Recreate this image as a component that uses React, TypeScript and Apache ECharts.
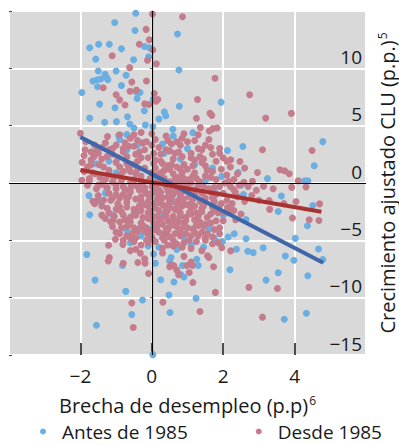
import React, { useEffect, useRef } from "react";
import * as echarts from "echarts";

const xTicks = { min: -4, max: 6, interval: 2 };
const yTicks = { min: -15, max: 15, interval: 5 };

const seriesNames = ["Antes de 1985", "Desde 1985"];

const antesPoints: number[][] = [
  [-0.45, 14.8], [-1.04, 14.0], [-0.47, 13.3], [0.72, 13.0], [-1.74, 11.8], [-1.49, 12.1], [-1.19, 12.1],
  [-0.85, 11.7], [-0.2, 11.9], [-0.07, 11.8], [-1.57, 10.8], [-0.51, 10.75], [-0.09, 11.0], [0.76, 9.86],
  [-1.5, 9.77], [-1.0, 9.77], [-1.65, 8.9], [-1.53, 9.0], [-1.43, 9.07], [-1.31, 9.48], [-1.26, 9.16],
  [-1.23, 9.0], [-0.72, 9.4], [-1.52, 8.4], [-1.96, 7.9], [-0.85, 8.5], [-0.44, 7.95], [-0.33, 7.9],
  [-0.41, 7.37], [-1.46, 6.88], [-1.03, 6.56], [0.77, 6.7], [1.94, 7.05], [0.04, 7.3], [-1.74, 5.66],
  [-1.32, 5.3], [-0.99, 5.35], [-0.68, 5.78], [-0.21, 6.3], [0.35, 6.2], [0.39, 5.87], [0.2, 5.58],
  [-0.93, 4.13], [-0.7, 4.22], [-0.62, 5.14], [-0.18, 5.06], [0.03, 4.9], [0.59, 4.68], [1.15, 4.39],
  [2.55, 3.18], [4.79, 3.61], [4.55, 1.5], [2.12, 2.83], [1.96, 0.58], [2.42, 0.92], [2.51, -0.17],
  [3.24, 0.38], [4.28, 0.2], [4.37, 0.2], [-1.76, -1.1], [-1.74, -2.77], [-1.56, 1.68], [-1.43, -1.62],
  [-1.26, -0.5], [-1.82, -6.24], [-1.59, -8.47], [-1.55, -12.4], [-0.73, -9.45], [-0.26, -10.2],
  [-0.56, -11.47], [-0.82, -7.2], [0.03, -4.9], [0.05, -6.2], [0.25, -8.44], [0.48, -9.77], [0.51, -11.3],
  [0.62, -8.64], [0.81, -7.98], [1.24, -10.06], [0.86, -7.2], [0.54, -6.5], [1.26, -6.65], [2.19, -7.57],
  [2.37, -5.78], [2.64, -4.86], [2.69, -5.95], [2.84, -6.07], [3.12, -5.64], [3.2, -8.47], [3.54, -7.83],
  [3.74, -6.36], [3.98, -6.73], [4.02, -4.83], [4.37, -8.09], [4.33, -11.36], [3.71, -11.88], [4.67, -5.75],
  [4.79, -6.68], [4.36, -3.73], [4.51, -1.97], [3.63, -1.13], [3.54, -2.49], [2.57, -1.0], [2.64, -3.18],
  [2.31, -4.42], [1.98, -5.1], [2.14, -4.71], [1.75, -4.83], [0.03, -14.97],
  [-0.5, 4.8], [-0.9, 3.8], [-0.7, 2.9], [0.3, 3.4], [0.8, 2.1], [1.2, 1.6], [1.5, 0.2], [1.8, -0.9],
  [2.0, -2.8], [1.6, -4.0], [0.9, -4.7], [0.4, -4.4], [0.0, -4.0], [-0.3, -4.6], [-0.7, -4.1], [-1.1, -2.8],
  [-1.3, -0.9], [-1.0, 0.9], [0.1, 0.4], [0.6, -1.6], [0.2, -5.6], [0.7, -5.8], [1.1, -5.4], [-0.1, -5.5],
  [0.5, -6.8], [1.3, -7.2], [0.9, -8.2], [0.1, -7.0], [0.35, 2.6], [0.6, 4.1], [1.0, 3.0], [1.7, 1.3],
  [-0.4, 3.3], [-1.2, 1.9], [0.25, -3.0], [1.9, -2.0], [-0.6, -5.2], [1.45, -5.6]
];

const desdePoints: number[][] = [
  [0.02, 14.74], [0.86, 14.5], [-0.16, 13.4], [-0.07, 12.5], [-0.35, 12.1], [0.03, 11.6], [-1.11, 11.1],
  [-0.12, 10.7], [0.13, 10.4], [-0.62, 10.06], [1.77, 9.13], [-0.15, 8.9], [-0.56, 8.8], [-1.36, 8.3],
  [-0.61, 8.0], [-0.43, 8.1], [0.07, 7.8], [-1.0, 7.7], [-0.9, 7.25], [-0.75, 6.8], [-0.2, 6.9],
  [-0.08, 6.85], [0.17, 7.28], [0.12, 7.14], [2.74, 7.7], [1.28, 7.28], [1.63, 6.07], [1.68, 5.9],
  [3.91, 6.07], [3.19, 5.66], [1.25, 5.64], [1.36, 4.83], [1.61, 4.54], [1.71, 4.74], [1.83, 4.8],
  [-2.0, 4.34], [-1.24, 4.05], [4.49, 2.83], [3.1, 2.9], [2.21, 2.02], [2.47, 1.88], [2.96, 0.92],
  [3.59, 1.16], [3.72, 1.07], [3.85, 0.81], [4.1, 0.2], [3.92, -0.38], [4.32, -0.35], [4.7, -1.82],
  [4.68, -3.27], [4.41, -3.21], [4.04, -1.62], [3.94, -3.06], [3.29, -1.53], [3.13, -0.29], [2.82, 0.14],
  [2.93, -0.64], [2.58, 0.06], [2.34, -0.81], [2.15, 0.14], [2.12, -2.14], [2.21, -5.92], [2.72, -9.1],
  [3.1, -11.7], [3.52, -9.2], [1.35, -11.2], [1.78, -9.54], [1.15, -8.67], [1.05, -7.8], [0.75, -8.0],
  [0.31, -10.4], [-0.09, -7.9], [-0.56, -10.46], [-0.52, -12.6], [-1.19, -6.5], [-1.22, -6.8], [-1.21, -5.43],
  [-1.87, 2.89], [-1.96, 0.23], [-1.75, 0.14], [-1.62, 2.3], [-1.47, 1.6], [-1.65, -1.59], [-1.52, -1.5],
  [-1.31, -3.05], [-1.08, -3.27], [-1.02, -4.91], [-0.81, -5.35], [-0.45, -5.78], [-0.32, -6.13],
  [-0.19, -7.0], [-0.39, -6.94], [0.55, -7.1], [0.62, -7.23], [0.98, -7.2], [1.14, -7.2], [1.56, -6.35],
  [1.73, -7.3], [1.86, -5.2], [1.96, -5.64], [1.75, -4.05], [-1.9, 2.4], [-1.7, 2.0], [-1.8, 1.4],
  [-1.55, 2.8], [-1.4, 3.1],
  [-0.9, 4.2], [-0.6, 3.9], [-0.3, 4.4], [0.1, 3.8], [0.4, 4.1], [0.7, 3.6], [0.9, 4.3], [1.2, 3.7],
  [-1.3, 3.5], [1.5, 3.3],
  [-1.1, 3.0], [-0.8, 2.7], [-0.5, 3.2], [-0.2, 2.9], [0.2, 3.1], [0.5, 2.8], [0.8, 3.3], [1.1, 2.6],
  [1.4, 2.9], [1.7, 2.5], [-1.5, 2.6], [1.9, 3.0], [2.0, 2.2],
  [-1.4, 2.1], [-1.0, 1.8], [-0.7, 2.3], [-0.4, 1.9], [-0.1, 2.2], [0.3, 1.7], [0.6, 2.1], [0.9, 1.6],
  [1.2, 2.0], [1.5, 1.5], [1.8, 1.9], [-1.7, 1.6], [2.2, 1.4], [-0.9, 1.4], [0.1, 1.3], [0.5, 1.2],
  [-1.6, 0.8], [-1.2, 1.1], [-0.9, 0.7], [-0.6, 1.0], [-0.3, 0.6], [0.0, 0.9], [0.3, 0.5], [0.6, 0.8],
  [0.9, 0.4], [1.2, 0.9], [1.5, 0.6], [1.8, 0.3], [2.1, 0.7], [-1.3, 0.3], [-0.5, 0.3], [0.2, 0.2],
  [1.0, 1.2], [0.7, 1.4], [-0.2, 1.3],
  [-1.8, -0.2], [-1.4, -0.1], [-1.1, 0.1], [-0.8, -0.3], [-0.5, -0.1], [-0.2, -0.4], [0.1, -0.2],
  [0.4, -0.3], [0.7, -0.1], [1.0, -0.4], [1.3, -0.2], [1.6, -0.5], [1.9, -0.3], [2.3, -0.6], [-0.6, 0.0],
  [0.5, 0.1], [1.1, 0.0], [-1.0, -0.5], [0.2, -0.6], [0.9, -0.7],
  [-1.5, -1.1], [-1.2, -0.9], [-0.9, -1.3], [-0.6, -0.8], [-0.3, -1.2], [0.0, -0.9], [0.3, -1.3],
  [0.6, -1.0], [0.9, -1.4], [1.2, -0.9], [1.5, -1.3], [1.8, -1.0], [2.1, -1.5], [-0.1, -1.6], [0.5, -1.7],
  [1.1, -1.8], [-0.7, -1.7], [0.8, -1.1], [-1.0, -1.0], [0.2, -1.0],
  [-1.4, -2.0], [-1.0, -2.3], [-0.7, -2.1], [-0.4, -2.5], [-0.1, -2.0], [0.2, -2.4], [0.5, -2.1],
  [0.8, -2.6], [1.1, -2.2], [1.4, -2.5], [1.7, -2.1], [2.0, -2.6], [-0.8, -2.8], [0.0, -2.8], [0.6, -2.9],
  [1.3, -2.9], [-1.2, -2.6], [0.3, -1.9], [1.0, -1.9],
  [-1.3, -3.1], [-0.9, -3.4], [-0.6, -3.0], [-0.3, -3.5], [0.0, -3.2], [0.3, -3.6], [0.6, -3.1],
  [0.9, -3.5], [1.2, -3.2], [1.5, -3.6], [1.8, -3.3], [-0.5, -3.9], [0.4, -4.0], [1.0, -3.9], [-1.1, -3.8],
  [1.9, -3.9],
  [-1.0, -4.3], [-0.7, -4.6], [-0.4, -4.2], [-0.1, -4.5], [0.2, -4.3], [0.5, -4.7], [0.8, -4.2],
  [1.1, -4.6], [1.4, -4.3], [1.7, -4.7], [-0.8, -5.0], [0.1, -5.1], [0.9, -5.2], [1.5, -5.0], [-0.3, -5.4],
  [0.6, -5.5],
  [-0.6, -5.9], [0.3, -6.1], [0.9, -6.4], [1.4, -5.9], [-0.2, -6.6], [1.1, -6.9], [0.5, -7.3], [-0.8, -7.0],
  [1.6, -6.5], [0.7, -7.6],
  [-0.75, 3.5], [-0.45, 2.5], [-0.15, 3.6], [0.25, 2.5], [0.55, 3.4], [0.85, 2.3], [1.35, 2.3], [1.65, 3.1],
  [-1.25, 2.3], [-0.55, 1.6], [-0.25, 0.1], [0.05, 1.7], [0.35, 1.1], [0.65, 0.3], [0.95, -0.1], [1.25, 0.4],
  [1.55, 1.1], [1.75, -0.4], [-1.45, 0.5], [-0.85, 0.2], [-0.35, -0.6], [0.15, -1.4], [0.45, -0.7],
  [0.75, -1.5], [1.05, -1.2], [1.35, -1.6], [1.65, -0.8], [-1.15, -1.5], [-0.45, -1.4], [-0.05, -2.4],
  [0.35, -2.7], [0.65, -2.3], [0.95, -3.0], [1.25, -2.6], [1.55, -3.0], [-0.85, -2.5], [-0.25, -3.0],
  [0.15, -3.8], [0.45, -3.3], [0.75, -4.0], [1.15, -4.0], [1.45, -3.8], [-0.65, -3.6], [-0.05, -4.2],
  [0.35, -5.0], [0.65, -4.4], [1.25, -5.1], [-0.45, -4.8], [2.2, -2.2], [2.4, -1.2], [1.95, -1.8],
  [2.05, 0.0], [-1.6, -1.8], [-1.75, 0.4], [-1.9, 1.0],
  [-0.95, 2.2], [-0.65, 1.3], [-0.35, 2.7], [-0.05, 0.4], [0.25, 0.9], [0.55, 1.6], [0.85, 0.9], [1.15, 1.5],
  [1.45, 2.1], [-1.05, 0.5], [-0.75, -0.6], [-0.45, 0.8], [-0.15, -0.9], [0.15, 0.7], [0.45, -1.2],
  [0.75, 0.5], [1.05, -0.8], [1.35, 0.1], [1.65, 0.5], [-1.25, -0.4], [-0.95, -1.8], [-0.65, -1.2],
  [-0.35, -2.0], [-0.05, -1.2], [0.25, -0.8], [0.55, -1.4], [0.85, -2.0], [1.15, -1.4], [1.45, -2.0],
  [1.75, -1.6], [-1.05, -2.9], [-0.75, -3.2], [-0.45, -2.8], [-0.15, -3.9], [0.15, -2.9], [0.45, -2.4],
  [0.75, -3.4], [1.05, -2.6], [1.35, -3.4], [1.65, -2.7], [-0.85, -3.9], [-0.55, -4.4], [-0.25, -3.7],
  [0.05, -3.5], [0.35, -4.4], [0.65, -3.7], [0.95, -4.4], [1.25, -3.6], [1.55, -4.4], [-0.15, -5.0],
  [0.45, -5.4], [1.05, -5.0], [0.25, 1.9], [0.65, 2.6], [-0.25, 3.5], [0.05, 2.6], [-0.65, 3.2], [1.0, 3.6],
  [1.3, 3.0], [-1.35, 1.4], [-1.55, -0.5], [-1.35, -1.5], [-1.25, -2.2], [1.85, -2.6], [2.0, -0.9],
  [2.2, -0.3], [1.95, 1.2], [0.4, -0.1], [0.1, -0.5], [0.6, -0.5], [0.8, 0.1], [-0.3, -0.1], [0.2, -1.7],
  [0.4, -2.0], [0.7, -1.8], [-0.1, -1.0], [-0.4, -0.3], [0.0, 0.1], [0.3, 0.0], [0.6, 0.0], [0.9, -0.4],
  [1.2, -0.6], [0.5, -0.8], [0.2, -1.2], [-0.2, -1.9], [0.1, -2.2], [0.4, -2.9], [0.8, -2.9], [1.2, -2.0],
  [-0.5, -2.3], [-0.8, -1.0], [-0.1, -2.6], [0.7, -3.3], [0.2, -3.3], [-0.3, -2.4], [0.5, -3.8], [0.9, -3.8],
  [-0.6, -3.4], [-0.2, -4.2], [1.3, -4.6], [0.0, -4.7], [0.6, -5.0], [-0.5, -5.1], [1.7, -5.3], [0.3, -5.7],
  [-0.9, -4.4], [-1.15, -3.4], [1.5, -4.8], [0.85, -5.6], [-1.0, 3.3], [-0.5, 4.2], [0.0, 4.3], [0.45, 3.7],
  [0.85, 3.9], [1.3, 4.2], [1.6, 3.8], [1.9, 2.6], [2.1, 1.9], [-1.6, 3.3], [-1.85, 3.6], [-1.7, 2.7],
  [-1.95, 1.8], [2.3, 0.3], [2.45, -0.2], [2.25, -1.8], [2.6, -1.6], [2.5, -2.7], [2.35, -3.2],
  [-0.8, 3.0], [-0.4, 3.7], [0.0, 3.3], [0.4, 2.9], [0.75, 2.7], [1.1, 2.2], [1.4, 1.8], [1.7, 1.0],
  [-1.1, 2.5], [-0.7, 1.7], [-0.3, 2.2], [0.1, 2.0], [0.45, 1.5], [0.8, 1.2], [1.15, 0.6], [1.45, -0.3],
  [-1.2, 0.7], [-0.8, 1.0], [-0.4, 1.2], [0.0, -0.3], [0.35, 0.4], [0.7, -0.7], [1.05, 0.3], [1.4, -0.9],
  [1.7, -1.3], [-1.0, -0.2], [-0.6, -0.5], [-0.2, -0.7], [0.15, -0.9], [0.5, -1.5], [0.85, -1.7], [1.2, -1.2],
  [1.5, -1.7], [-1.1, -1.3], [-0.7, -1.4], [-0.3, -1.6], [0.05, -1.8], [0.4, -2.3], [0.75, -2.4], [1.1, -2.7],
  [1.4, -2.2], [1.75, -2.4], [-0.9, -2.1], [-0.5, -2.7], [-0.1, -3.1], [0.25, -3.2], [0.6, -3.6], [0.95, -3.3],
  [1.3, -3.7], [1.65, -3.5], [-0.7, -3.8], [-0.35, -4.0], [0.1, -4.1], [0.45, -4.1], [0.8, -4.6], [1.2, -4.3],
  [-0.6, -4.8], [-0.1, -5.2], [0.3, -4.8], [0.7, -5.3], [1.1, -5.7], [1.9, -4.4], [2.0, -3.3], [2.15, -2.6],
  [2.3, -2.4], [-1.4, -2.8], [-1.5, -0.2], [-1.65, 0.9], [-1.2, 2.9], [2.4, 0.8], [2.7, -0.3], [2.8, -1.1],
  [3.0, -1.5], [3.4, -0.5], [2.6, 1.3], [3.3, -2.3], [3.7, -1.8]
];

const antesFit: number[][] = [[-2, 4.0], [4.8, -6.95]];
const desdeFit: number[][] = [[-2, 1.13], [4.75, -2.5]];

const FONT = "'Open Sans', 'Noto Sans', sans-serif";
const TXT = "#1a1a1a";

export default function App() {
  const ref = useRef<HTMLDivElement>(null);
  useEffect(() => {
    if (!ref.current) return;
    const chart = echarts.init(ref.current, undefined, { renderer: "svg" });
    chart.setOption({
      animation: false,
      textStyle: { fontFamily: FONT },
      grid: {
        left: 9, right: 33, top: 11, bottom: 90,
        show: true, backgroundColor: "#d9d9d9", borderWidth: 0,
        containLabel: false, outerBoundsMode: "none",
      },
      legend: {
        data: seriesNames,
        left: 35, top: 417,
        icon: "circle", itemWidth: 6, itemHeight: 6, itemGap: 68,
        textStyle: { fontSize: 19, color: TXT, fontFamily: FONT, padding: [0, 0, 0, 11] },
      },
      xAxis: {
        type: "value", min: xTicks.min, max: xTicks.max, interval: xTicks.interval,
        axisLine: { show: false, onZero: false },
        axisTick: { show: true, inside: true, length: 12, lineStyle: { color: "#111", width: 1.5 } },
        axisLabel: { fontSize: 19, color: TXT, margin: 11, showMinLabel: false, showMaxLabel: false,
          formatter: (v: number) => (v < 0 ? "\u2212" + Math.abs(v) : String(v)) },
        splitLine: { show: true, lineStyle: { color: "#ffffff", width: 2 } },
        name: "{a|Brecha de desempleo (p.p)}{s|6}",
        nameLocation: "middle", nameGap: 39,
        nameTextStyle: {
          rich: {
            a: { fontSize: 20, color: TXT, fontFamily: FONT },
            s: { fontSize: 12, color: TXT, fontFamily: FONT, verticalAlign: "top", padding: [0, 0, 10, 1] },
          },
        },
      },
      yAxis: [
        {
          type: "value", position: "right", min: yTicks.min, max: yTicks.max, interval: yTicks.interval,
          axisLine: { show: false },
          axisTick: { show: true, inside: true, length: 2, lineStyle: { color: "#666" } },
          axisLabel: { inside: true, fontSize: 19, color: TXT, margin: 4, verticalAlign: "bottom",
            showMaxLabel: false, padding: [0, 0, 2, 0],
            formatter: (v: number) => (v < 0 ? "\u2212" + Math.abs(v) : String(v)) },
          splitLine: { show: true, lineStyle: { color: "#ffffff", width: 2 } },
          name: "{a|Crecimiento ajustado CLU (p.p.)}{s|5}",
          nameLocation: "middle", nameGap: 10, nameRotate: 90,
          nameTextStyle: {
            rich: {
              a: { fontSize: 20, color: TXT, fontFamily: FONT },
              s: { fontSize: 12, color: TXT, fontFamily: FONT, verticalAlign: "top", padding: [0, 0, 10, 1] },
            },
          },
        },
        {
          type: "value", position: "left", min: yTicks.min, max: yTicks.max, interval: yTicks.interval,
          axisLine: { show: false }, axisLabel: { show: false }, splitLine: { show: false },
          axisTick: { show: true, inside: true, length: 3, lineStyle: { color: "#444" } },
        },
      ],
      series: [
        {
          name: "ejes", type: "line", data: [], silent: true,
          markLine: {
            silent: true, symbol: "none", label: { show: false },
            lineStyle: { color: "#000", width: 1.2, type: "solid" },
            data: [{ xAxis: 0 }, { yAxis: 0 }],
          },
        },
        {
          name: seriesNames[0], type: "scatter", data: antesPoints, symbolSize: 7,
          itemStyle: { color: "#6aaee2", opacity: 1 },
        },
        {
          name: seriesNames[1], type: "scatter", data: desdePoints, symbolSize: 7,
          itemStyle: { color: "#c47c8c", opacity: 1 },
        },
        {
          name: "Tendencia antes de 1985", type: "line", data: antesFit, showSymbol: false,
          lineStyle: { color: "#3e66a9", width: 4 }, silent: true,
        },
        {
          name: "Tendencia desde 1985", type: "line", data: desdeFit, showSymbol: false,
          lineStyle: { color: "#a83230", width: 4 }, silent: true,
        },
      ],
    });
    return () => chart.dispose();
  }, []);
  return <div ref={ref} style={{ width: 399, height: 445, position: "absolute", left: 0, top: 0 }} />;
}
